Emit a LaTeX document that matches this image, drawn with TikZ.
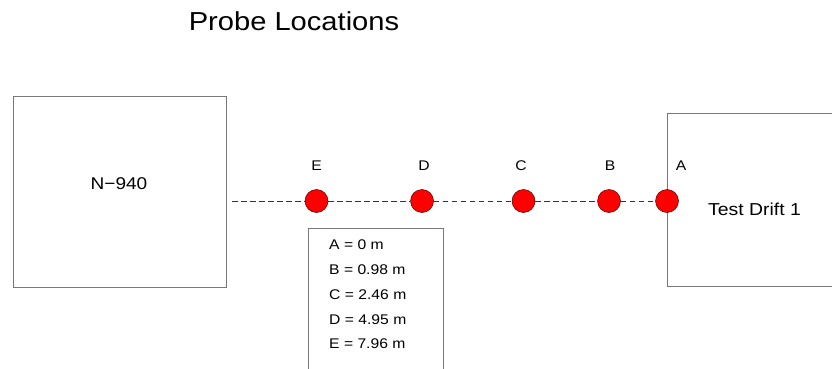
\documentclass[tikz,border=0pt]{standalone}
\usepackage{fontspec}
\setmainfont{Liberation Sans}[FakeStretch=1.12]
\definecolor{boxgray}{RGB}{120,120,120}
\definecolor{probered}{RGB}{255,0,0}
\tikzset{
  roomshape/.style={draw=boxgray, line width=0.9pt},
  probe/.style={circle, fill=probered, draw=black!70!red, line width=0.5pt,
                minimum size=23pt, inner sep=0pt},
  probelabel/.style={anchor=base, font=\fontsize{14}{16}\selectfont},
  legendtext/.style={anchor=base west, inner sep=0pt, font=\fontsize{14}{16}\selectfont},
  link/.style={draw=black!80, line width=1pt, dash pattern=on 5.5pt off 3.5pt}
}
\begin{document}
\begin{tikzpicture}[x=1pt, y=-1pt]
  \clip (0,0) rectangle (832,369);
  \fill[white] (0,0) rectangle (832,369);

  % title
  \node[anchor=base, inner sep=0pt, font=\fontsize{26}{30}\selectfont] (title) at (294,30.5) {Probe Locations};

  % rooms
  \draw[roomshape] (13,96) rectangle (226,287);
  \node[anchor=base, inner sep=0pt, font=\fontsize{17}{20}\selectfont] (n940) at (119,189) {N\textminus940};
  \draw[roomshape] (667,113) rectangle (850,286);
  \node[anchor=base, inner sep=0pt, font=\fontsize{17.3}{20}\selectfont] (drift) at (754.5,215.7) {Test Drift 1};

  % probes along the line
  \coordinate (start) at (232,201);
  \node[probe] (pE) at (316.5,201) {};
  \node[probe] (pD) at (422,201) {};
  \node[probe] (pC) at (523.5,201) {};
  \node[probe] (pB) at (609,201) {};
  \node[probe] (pA) at (667,201) {};

  \draw[link] (start) -- (pE);
  \draw[link] (pE) -- (pD);
  \draw[link] (pD) -- (pC);
  \draw[link] (pC) -- (pB);
  \draw[link] (pB) -- (pA);

  \node[probelabel] (lE) at (316.5,170) {E};
  \node[probelabel] (lD) at (424,170) {D};
  \node[probelabel] (lC) at (521,170) {C};
  \node[probelabel] (lB) at (610,170) {B};
  \node[probelabel] (lA) at (681,170) {A};

  % distance legend
  \draw[roomshape] (308,375) -- (308,228) -- (443,228) -- (443,375);
  \node[legendtext] (dA) at (329,249.5) {A = 0 m};
  \node[legendtext] (dB) at (329,274.5) {B = 0.98 m};
  \node[legendtext] (dC) at (329,299.5) {C = 2.46 m};
  \node[legendtext] (dD) at (329,324) {D = 4.95 m};
  \node[legendtext] (dE) at (329,348.5) {E = 7.96 m};
\end{tikzpicture}
\end{document}
